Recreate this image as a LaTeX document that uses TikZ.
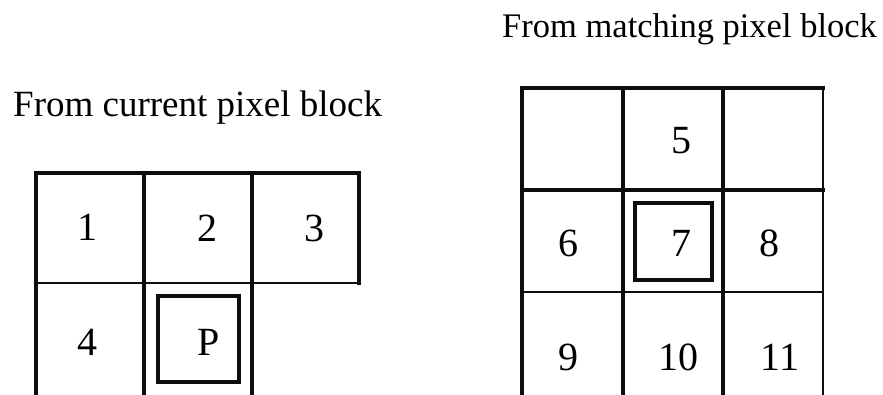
\documentclass[tikz,border=0pt]{standalone}
\usepackage{fontspec}
\setmainfont{Liberation Serif}
\usepackage{tikz}
\usetikzlibrary{arrows}
\definecolor{ttttzz}{rgb}{0.05,0.05,0.05}
\tikzset{
  thickline/.style={color=ttttzz,line width=3.2pt},
  thinline/.style={color=ttttzz,line width=2pt},
  num/.style={anchor=base,inner sep=0pt,font=\fontsize{40}{42}\selectfont},
  caption/.style={anchor=base west,inner sep=0pt}
}

\begin{document}
\begin{tikzpicture}[line cap=rect,line join=miter,x=1pt,y=-1pt]
\useasboundingbox (0,0) rectangle (883,394);
\clip(0,0) rectangle (883,394);
% current block
\draw [thickline] (36,400)-- (36,173)-- (359,173)-- (359,283);
\draw [thinline] (36,283)-- (359,283);
\draw [thickline] (144,173)-- (144,400);
\draw [thickline] (252,173)-- (252,400);
\draw [thickline] (158,296) rectangle (239,382);
% matching block
\draw [thickline] (522,400)-- (522,88)-- (823,88);
\draw [thinline] (823,88)-- (823,400);
\draw [thickline] (623,88)-- (623,400);
\draw [thickline] (723,88)-- (723,400);
\draw [thickline] (522,190)-- (823,190);
\draw [thinline] (522,292)-- (823,292);
\draw [thickline] (635,203) rectangle (712,280);
% labels
\node[caption,font=\fontsize{37}{40}\selectfont] (capcur) at (13,116) {From current pixel block};
\node[caption,font=\fontsize{34.5}{37}\selectfont] (capmat) at (502,37) {From matching pixel block};
\node[num] (n1) at (87,240) {1};
\node[num] (n2) at (207,241) {2};
\node[num] (n3) at (314,241) {3};
\node[num] (n4) at (87,355) {4};
\node[num] (np) at (209,355) {P};
\node[num] (n5) at (681,153) {5};
\node[num] (n6) at (568,256) {6};
\node[num] (n7) at (681,256) {7};
\node[num] (n8) at (769,256) {8};
\node[num] (n9) at (568,370) {9};
\node[num] (n10) at (678,370) {10};
\node[num] (n11) at (780,370) {11};
\end{tikzpicture}
\end{document}
